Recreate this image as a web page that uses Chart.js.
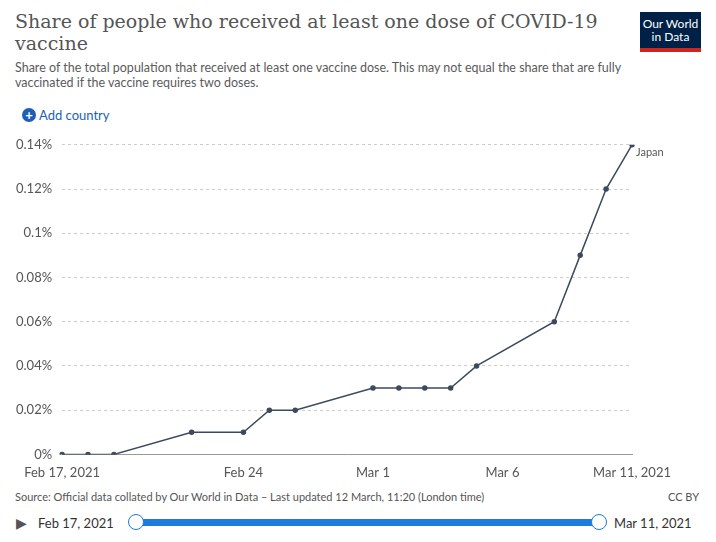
<!DOCTYPE html>
<html><head><meta charset="utf-8">
<script src="https://cdn.jsdelivr.net/npm/chart.js@4"></script>
<style>
body{margin:0;width:716px;height:542px;background:#fff;font-family:Lato,"Open Sans",sans-serif;position:relative;overflow:hidden}
#title{position:absolute;left:15px;top:10px;width:590px;font-family:"DejaVu Serif",serif;font-size:19px;color:#555;line-height:22px}
#sub{position:absolute;left:15px;top:60px;width:620px;font-size:12.5px;color:#5b5b5b;line-height:15px}
#logo{position:absolute;left:640px;top:12px;width:61px;height:40px;background:#002147;color:#fff;font-size:12px;line-height:13px;text-align:center;padding-top:5px;box-sizing:border-box;border-bottom:4px solid #ce261e}
#add{position:absolute;left:22px;top:107px;font-size:13px;color:#1d5fb6}
#add b{display:inline-block;width:14px;height:14px;border-radius:7px;background:#1d5fb6;color:#fff;text-align:center;line-height:14px;font-size:13px;margin-right:3px}
#wrap{position:absolute;left:0;top:127px;width:700px;height:357px}
#src{position:absolute;left:15px;top:490px;font-size:11px;color:#555}
#cc{position:absolute;left:668px;top:490px;font-size:11px;color:#555}
#slider{position:absolute;left:0;top:512px;width:716px;height:22px;font-size:13px;color:#333}
</style></head><body>
<div id="title">Share of people who received at least one dose of COVID-19 vaccine</div>
<div id="sub">Share of the total population that received at least one vaccine dose. This may not equal the share that are fully vaccinated if the vaccine requires two doses.</div>
<div id="logo">Our World<br>in Data</div>
<div id="add"><b>+</b>Add country</div>
<div id="wrap"><canvas id="c"></canvas></div>
<div id="src">Source: Official data collated by Our World in Data – Last updated 12 March, 11:20 (London time)</div>
<div id="cc">CC BY</div>
<div id="slider">
<span style="position:absolute;left:16px;top:2px;font-size:14px;color:#555">&#9654;</span>
<span style="position:absolute;left:38px;top:3px">Feb 17, 2021</span>
<div style="position:absolute;left:135px;top:7px;width:464px;height:7px;background:#1d7be0;border-radius:3px"></div>
<div style="position:absolute;left:128px;top:2px;width:14px;height:14px;border:1.5px solid #1d7be0;border-radius:9px;background:#fff"></div>
<div style="position:absolute;left:591px;top:2px;width:14px;height:14px;border:1.5px solid #1d7be0;border-radius:9px;background:#fff"></div>
<span style="position:absolute;left:614px;top:3px">Mar 11, 2021</span>
</div>
<script>
const days = ['Feb 17','Feb 18','Feb 19','Feb 20','Feb 21','Feb 22','Feb 23','Feb 24','Feb 25','Feb 26','Feb 27','Feb 28','Mar 1','Mar 2','Mar 3','Mar 4','Mar 5','Mar 6','Mar 7','Mar 8','Mar 9','Mar 10','Mar 11'];
const japan = [0,0,0,null,null,0.01,null,0.01,0.02,0.02,null,null,0.03,0.03,0.03,0.03,0.04,null,null,0.06,0.09,0.12,0.14];
const tickLabels = {'Feb 17':'Feb 17, 2021','Feb 24':'Feb 24','Mar 1':'Mar 1','Mar 6':'Mar 6','Mar 11':'Mar 11, 2021'};
const yTicks = [0,0.02,0.04,0.06,0.08,0.1,0.12,0.14];

new Chart(document.getElementById('c'), {
  type: 'line',
  data: { labels: days, datasets: [{ label: 'Japan', data: japan, borderColor: '#3c4a5e', backgroundColor: '#3c4a5e',
    borderWidth: 1.5, pointRadius: 2, spanGaps: true, tension: 0 }] },
  options: {
    responsive: true, maintainAspectRatio: false, animation: false,
    layout: { padding: { left: 6, right: 68, top: 8, bottom: 0 } },
    plugins: { legend: { display: false }, tooltip: { enabled: false } },
    scales: {
      x: { offset: false, grid: { display: false }, border: { color: '#999' },
        ticks: { autoSkip: false, maxRotation: 0, color: '#555', font: { size: 13, family: 'Lato' },
          callback: (v, i) => tickLabels[days[i]] || '' } },
      y: { min: 0, max: 0.14, afterBuildTicks: ax => { ax.ticks = yTicks.map(v => ({ value: v })); },
        grid: { color: '#ccc', drawTicks: false }, border: { display: false, dash: [3, 3] },
        ticks: { color: '#555', padding: 10, font: { size: 13, family: 'Lato' },
          callback: v => (Math.round(v * 100) / 100) + '%' } }
    }
  },
  plugins: [{ id: 'lbl', afterDatasetsDraw(ch) {
    const p = ch.getDatasetMeta(0).data[days.length - 1];
    const g = ch.ctx; g.save(); g.fillStyle = '#555'; g.font = '11px Lato';
    g.textBaseline = 'middle'; g.fillText('Japan', p.x + 4, p.y + 8); g.restore();
  } }]
});
</script>
</body></html>
